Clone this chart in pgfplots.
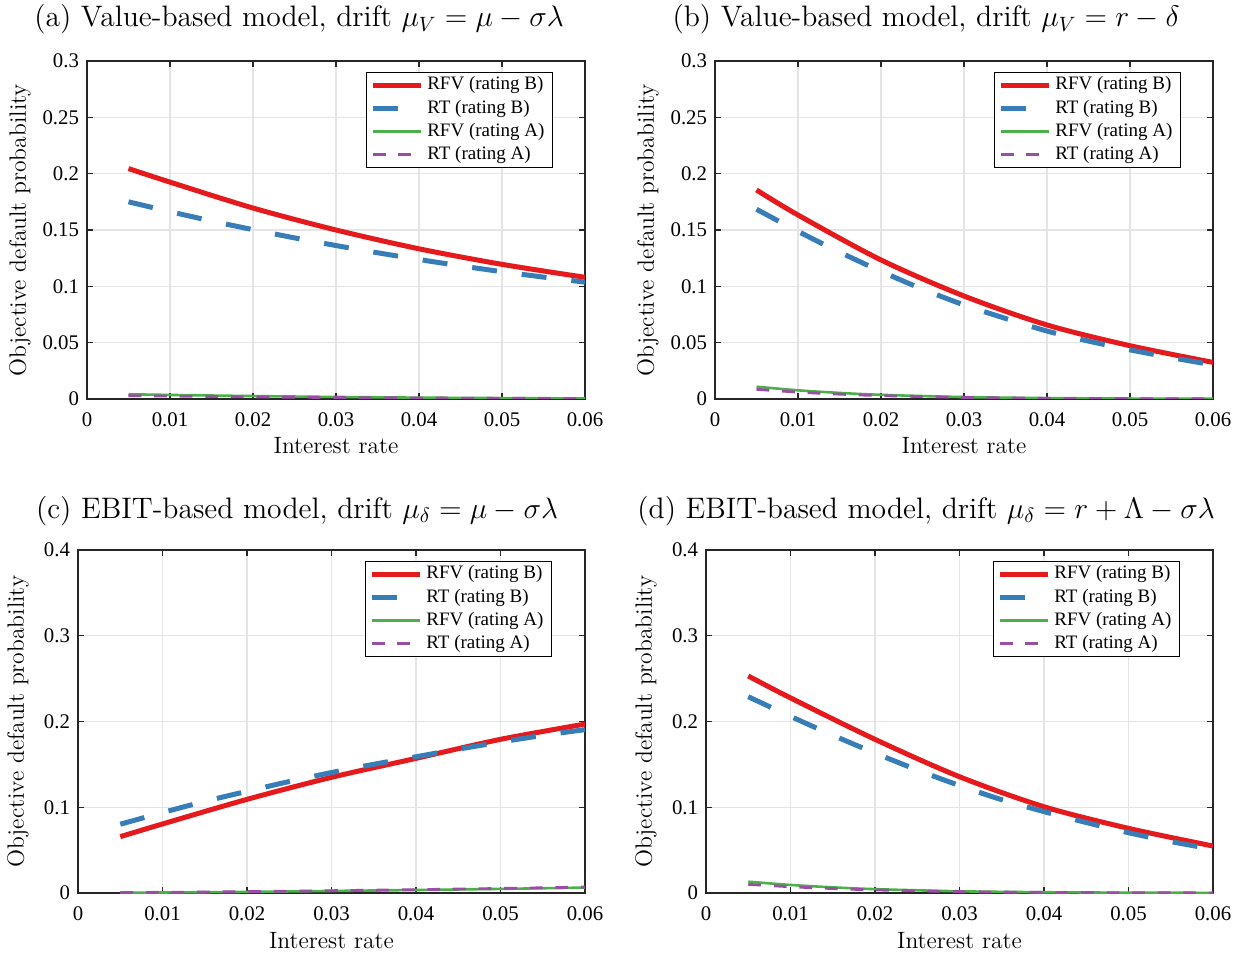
\RequirePackage{fix-cm}
\documentclass[border=0pt]{standalone}
\usepackage{fontspec}
\usepackage{pgfplots}
\pgfplotsset{compat=1.18}
\newfontfamily\timesf{Liberation Serif}
\definecolor{cRed}{HTML}{E41A1C}
\definecolor{cBlue}{HTML}{377EB8}
\definecolor{cGreen}{HTML}{4DAF4A}
\definecolor{cPurple}{HTML}{984EA3}
\newcommand{\tickfont}{\fontsize{10.4}{12}\selectfont\timesf}
\newcommand{\legfont}{\fontsize{9.5}{11}\selectfont\timesf}
\newcommand{\labfont}{\fontsize{11.8}{14}\selectfont}
\newcommand{\titfont}{\fontsize{14.8}{17}\selectfont}
\tikzset{
  rfvB/.style={color=cRed, line width=2.5pt, solid},
  rtB/.style={color=cBlue, line width=2.5pt, dash pattern=on 12.5pt off 12.5pt},
  rfvA/.style={color=cGreen, line width=1.3pt, solid},
  rtA/.style={color=cPurple, line width=1.4pt, dash pattern=on 6.4pt off 6.4pt},
}
\pgfplotsset{
  every axis title shift=0pt,
  myax/.style={
    scale only axis, anchor=south west,
    xmin=0, xmax=0.06,
    scaled x ticks=false, scaled y ticks=false,
    xtick={0,0.01,0.02,0.03,0.04,0.05,0.06},
    xticklabels={0,0.01,0.02,0.03,0.04,0.05,0.06},
    grid=major,
    major grid style={color=black!10, line width=0.6pt},
    axis line style={color=black!85, line width=0.6pt},
    tick align=inside, tick pos=both, major tick length=3pt,
    every tick/.style={color=black!85, line width=0.6pt},
    ticklabel style={font=\tickfont},
    xticklabel style={inner sep=0pt, yshift=-6.5pt},
    yticklabel style={inner sep=0pt, xshift=-3.8pt},
    xlabel={Interest rate},
    ylabel={Objective default probability},
    label style={font=\labfont},
    title style={font=\titfont, anchor=base},
    legend cell align=left,
    legend style={font=\legfont, draw=black, line width=0.5pt, fill=white,
      anchor=north east, inner xsep=2pt, inner ysep=0.5pt, row sep=0pt,
      nodes={inner ysep=1pt, inner xsep=2pt, text height=7.2pt, text depth=2.4pt}},
    legend image code/.code={\draw[##1] (0pt,0pt) -- (24pt,0pt);},
    every axis plot/.append style={smooth},
  },
  topax/.style={myax, width=249pt, height=169pt, ymin=0, ymax=0.3,
    ytick={0,0.05,0.1,0.15,0.2,0.25,0.3},
    yticklabels={0,0.05,0.1,0.15,0.2,0.25,0.3},
    xlabel style={at={(axis description cs:0.5,-0.139)}, anchor=center},
    ylabel style={at={(axis description cs:-0.1345,0.5)}, anchor=center},
    legend style={at={(axis description cs:0.9357,0.9675)}},
  },
  botax/.style={myax, width=253.5pt, height=171.5pt, ymin=0, ymax=0.4,
    ytick={0,0.1,0.2,0.3,0.4},
    yticklabels={0,0.1,0.2,0.3,0.4},
    xlabel style={at={(axis description cs:0.5,-0.140)}, anchor=center},
    ylabel style={at={(axis description cs:-0.1183,0.5)}, anchor=center},
    legend style={at={(axis description cs:0.935,0.968)}},
  },
}
\begin{document}
\begin{tikzpicture}
\path[use as bounding box] (0pt,0pt) rectangle (623pt,479pt);
% (a)
\begin{axis}[topax, at={(43.5pt,279.5pt)},
  title={(a) Value-based model, drift $\mu_V = \mu - \sigma\lambda$},
  title style={at={(axis description cs:0.4257,1.1006)}}]
\addplot[rfvB] coordinates {(0.005,0.2045)(0.01,0.1925)(0.02,0.1695)(0.03,0.1500)(0.04,0.1333)(0.05,0.1195)(0.06,0.1080)};
\addlegendentry{RFV (rating B)}
\addplot[rtB] coordinates {(0.005,0.1750)(0.01,0.1663)(0.015,0.1580)(0.02,0.1503)(0.025,0.1430)(0.03,0.1362)(0.035,0.1298)(0.04,0.1238)(0.045,0.1182)(0.05,0.1130)(0.055,0.1082)(0.06,0.1037)};
\addlegendentry{RT (rating B)}
\addplot[rfvA] coordinates {(0.005,0.0042)(0.01,0.0036)(0.02,0.0026)(0.03,0.0018)(0.04,0.0012)(0.05,0.0008)(0.06,0.0005)};
\addlegendentry{RFV (rating A)}
\addplot[rtA] coordinates {(0.005,0.0030)(0.01,0.0026)(0.02,0.0019)(0.03,0.0013)(0.04,0.0009)(0.05,0.0006)(0.06,0.0004)};
\addlegendentry{RT (rating A)}
\end{axis}
% (b)
\begin{axis}[topax, at={(357.5pt,279.5pt)},
  title={(b) Value-based model, drift $\mu_V = r - \delta$},
  title style={at={(axis description cs:0.4237,1.1006)}}]
\addplot[rfvB] coordinates {(0.005,0.1855)(0.01,0.1633)(0.02,0.1234)(0.03,0.0914)(0.04,0.0657)(0.05,0.0473)(0.06,0.0325)};
\addlegendentry{RFV (rating B)}
\addplot[rtB] coordinates {(0.005,0.1684)(0.01,0.1488)(0.015,0.1304)(0.02,0.1133)(0.025,0.0975)(0.03,0.0835)(0.035,0.0715)(0.04,0.0603)(0.045,0.0514)(0.05,0.0436)(0.055,0.0367)(0.06,0.0302)};
\addlegendentry{RT (rating B)}
\addplot[rfvA] coordinates {(0.005,0.0109)(0.01,0.0077)(0.015,0.0054)(0.02,0.0037)(0.03,0.0017)(0.04,0.0008)(0.05,0.0004)(0.06,0.0002)};
\addlegendentry{RFV (rating A)}
\addplot[rtA] coordinates {(0.005,0.0086)(0.01,0.0061)(0.015,0.0043)(0.02,0.0030)(0.03,0.0014)(0.04,0.0006)(0.05,0.0003)(0.06,0.0001)};
\addlegendentry{RT (rating A)}
\end{axis}
% (c)
\begin{axis}[botax, at={(39pt,32.5pt)},
  title={(c) EBIT-based model, drift $\mu_\delta = \mu - \sigma\lambda$},
  title style={at={(axis description cs:0.432,1.093)}}]
\addplot[rfvB] coordinates {(0.005,0.0657)(0.01,0.0805)(0.02,0.1092)(0.03,0.1349)(0.04,0.1570)(0.05,0.1792)(0.06,0.1970)};
\addlegendentry{RFV (rating B)}
\addplot[rtB] coordinates {(0.005,0.0802)(0.01,0.0938)(0.015,0.1068)(0.02,0.1186)(0.025,0.1300)(0.03,0.1405)(0.035,0.1501)(0.04,0.1589)(0.045,0.1677)(0.05,0.1760)(0.055,0.1838)(0.06,0.1905)};
\addlegendentry{RT (rating B)}
\addplot[rfvA] coordinates {(0.005,0.0003)(0.01,0.0006)(0.02,0.0013)(0.03,0.0024)(0.04,0.0035)(0.05,0.0048)(0.06,0.0063)};
\addlegendentry{RFV (rating A)}
\addplot[rtA] coordinates {(0.005,0.0004)(0.01,0.0008)(0.02,0.0016)(0.03,0.0027)(0.04,0.0039)(0.05,0.0053)(0.06,0.0069)};
\addlegendentry{RT (rating A)}
\end{axis}
% (d)
\begin{axis}[botax, at={(353pt,32.5pt)},
  title={(d) EBIT-based model, drift $\mu_\delta = r + \Lambda - \sigma\lambda$},
  title style={at={(axis description cs:0.434,1.093)}}]
\addplot[rfvB] coordinates {(0.005,0.2531)(0.01,0.2275)(0.02,0.1792)(0.03,0.1356)(0.04,0.1006)(0.05,0.0754)(0.06,0.0548)};
\addlegendentry{RFV (rating B)}
\addplot[rtB] coordinates {(0.005,0.2289)(0.01,0.2060)(0.015,0.1840)(0.02,0.1632)(0.025,0.1435)(0.03,0.1253)(0.035,0.1088)(0.04,0.0949)(0.045,0.0822)(0.05,0.0703)(0.055,0.0600)(0.06,0.0510)};
\addlegendentry{RT (rating B)}
\addplot[rfvA] coordinates {(0.005,0.0132)(0.01,0.0094)(0.015,0.0066)(0.02,0.0045)(0.03,0.0020)(0.04,0.0009)(0.05,0.0004)(0.06,0.0002)};
\addlegendentry{RFV (rating A)}
\addplot[rtA] coordinates {(0.005,0.0101)(0.01,0.0073)(0.015,0.0052)(0.02,0.0036)(0.03,0.0016)(0.04,0.0007)(0.05,0.0003)(0.06,0.0001)};
\addlegendentry{RT (rating A)}
\end{axis}
\end{tikzpicture}
\end{document}
